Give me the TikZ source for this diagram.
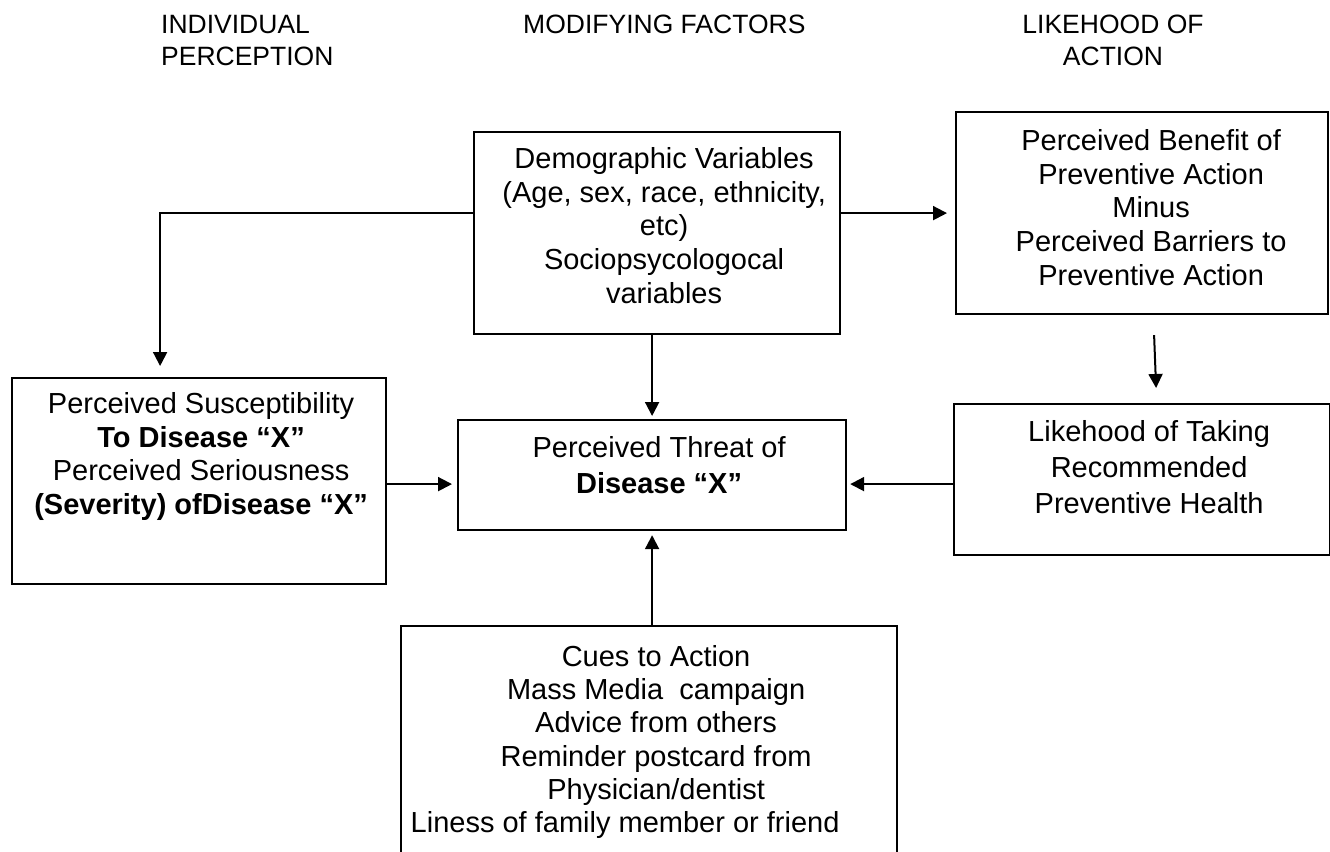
\documentclass[tikz,border=0pt]{standalone}
\usepackage{fontspec}
\setmainfont{Liberation Sans}
\usetikzlibrary{positioning, arrows.meta}
\tikzset{x=1pt, y=-1pt,
  box/.style={draw, line width=2.2pt, anchor=north west, inner sep=0pt},
  boxtext/.style={align=center, inner sep=0pt, font=\fontsize{29}{33.8}\selectfont},
  head/.style={inner sep=0pt, font=\fontsize{26.5}{32}\selectfont},
  link/.style={draw, line width=2pt, -{Triangle[length=14pt,width=14pt]}, shorten >=4pt}}

\begin{document}
\begin{tikzpicture}
  \useasboundingbox (0,0) rectangle (1330,851);

  % column headings
  \node[head, anchor=north west, align=left] (indiv) at (161,15) {INDIVIDUAL\\PERCEPTION};
  \node[head, anchor=north west] (modif) at (523,15) {MODIFYING FACTORS};
  \node[head, anchor=north, align=center] (likeh) at (1113,15) {LIKEHOOD OF\\ACTION};

  % boxes
  \node[box, minimum width=366, minimum height=202] (demo) at (473,131) {};
  \node[box, minimum width=372, minimum height=202] (benefit) at (955,111) {};
  \node[box, minimum width=374, minimum height=206] (susc) at (11,377) {};
  \node[box, minimum width=388, minimum height=110] (threat) at (457,419) {};
  \node[box, minimum width=376, minimum height=151] (likehood) at (953,403) {};
  \node[box, minimum width=496, minimum height=260] (cues) at (400,625) {};

  % texts
  \node[boxtext, below=16pt of demo.north, xshift=7pt] (demotxt)
    {Demographic Variables\\(Age, sex, race, ethnicity,\\etc)\\Sociopsycologocal\\variables};
  \node[boxtext, below=18pt of benefit.north, xshift=9pt] (benefittxt)
    {Perceived Benefit of\\Preventive Action\\Minus\\Perceived Barriers to\\Preventive Action};
  \node[boxtext, below=15pt of susc.north, xshift=2pt] (susctxt)
    {Perceived Susceptibility\\\textbf{To Disease “X”}\\Perceived Seriousness\\\textbf{(Severity) ofDisease “X”}};
  \node[boxtext, below=17pt of threat.north, xshift=7pt, font=\fontsize{29}{36}\selectfont] (threattxt)
    {Perceived Threat of\\\textbf{Disease “X”}};
  \node[boxtext, below=17pt of likehood.north, xshift=7pt, font=\fontsize{29}{36}\selectfont] (likehoodtxt)
    {Likehood of Taking\\Recommended\\Preventive Health};
  \node[boxtext, below=20pt of cues.north, xshift=7pt, font=\fontsize{29}{33.3}\selectfont] (cuestxt)
    {Cues to Action\\Mass Media\ \ campaign\\Advice from others\\Reminder postcard from\\Physician/dentist\\Liness of family member or friend\hspace*{62pt}};

  % connectors
  \draw[link, shorten >=11pt] (demo.west |- benefit.west) -| ([xshift=-39pt]susc.north);
  \draw[link, shorten >=8pt] (demo.east |- benefit.west) -- (benefit.west);
  \draw[link, shorten >=3pt] (demo.south -| threat.north) -- (threat.north);
  \draw[link, shorten >=0pt] ([xshift=12pt,yshift=-20pt]benefit.south) -- ([xshift=14pt,yshift=15pt]likehood.north);
  \draw[link, shorten >=5pt] ([yshift=-3pt]susc.east) -- ([yshift=-3pt]susc.east -| threat.west);
  \draw[link, shorten >=3pt] ([yshift=-4.5pt]likehood.west) -- ([yshift=-4.5pt]likehood.west -| threat.east);
  \draw[link, shorten >=4pt] (cues.north -| threat.south) -- (threat.south);
\end{tikzpicture}
\end{document}
